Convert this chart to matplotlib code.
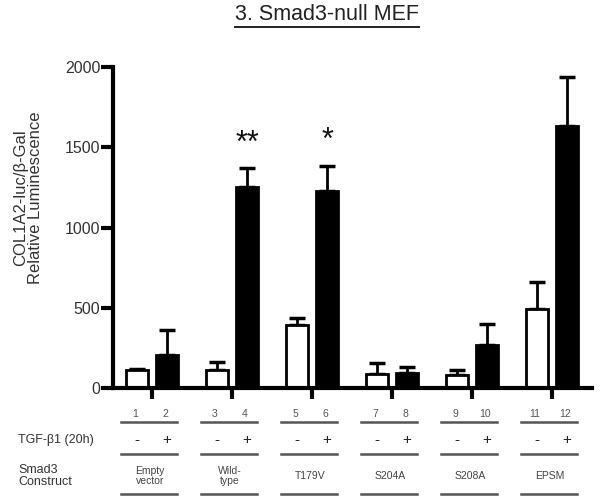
import matplotlib.pyplot as plt
import numpy as np

plt.rcParams['font.family'] = ['Liberation Sans', 'DejaVu Sans']

lanes = ['1', '2', '3', '4', '5', '6', '7', '8', '9', '10', '11', '12']
tgf = ['-', '+'] * 6
constructs = ['Empty\nvector', 'Wild-\ntype', 'T179V', 'S204A', 'S208A', 'EPSM']
means = [115, 205, 115, 1250, 390, 1225, 88, 92, 82, 266, 495, 1635]
errs = [5, 155, 45, 120, 44, 160, 67, 36, 31, 130, 164, 300]
stars = {3: '**', 5: '*'}

# bar x positions (units ~ pixels): pairs 30 apart, groups 80 apart
group_x = np.arange(len(constructs)) * 80.0
bar_x = np.repeat(group_x, 2) + np.tile([-15, 15], len(constructs))

fig = plt.figure(figsize=(6.02, 5.04), dpi=100)
ax = fig.add_axes([113 / 602, 1 - 388 / 504, 479 / 602, 321 / 504])

face = ['white' if s == '-' else 'black' for s in tgf]
ax.bar(bar_x, means, width=22, color=face, edgecolor='black', linewidth=2, zorder=2)
for x, m, e in zip(bar_x, means, errs):
    ax.errorbar(x, m, yerr=[[0], [e]], fmt='none', ecolor='black',
                elinewidth=2, capsize=6, capthick=2.5, zorder=1)
for i, s in stars.items():
    ax.text(bar_x[i], means[i] + errs[i] + 60, s, ha='center', va='bottom',
            fontsize=22, color='#111111')

ax.set_xlim(-39, 440)
ax.set_ylim(0, 2000)
ax.set_yticks([0, 500, 1000, 1500, 2000])
ax.set_xticks(group_x)
ax.set_xticklabels([])
for side in ['top', 'right']:
    ax.spines[side].set_visible(False)
for side in ['left', 'bottom']:
    ax.spines[side].set_linewidth(3)
ax.tick_params(axis='y', length=9, width=3, pad=0, labelsize=11.5, labelcolor='#333333')
ax.tick_params(axis='x', length=8, width=3, direction='out')

def fy(py):
    return 1 - py / 504

fig.text(28 / 602, fy(198), 'COL1A2-luc/\u03b2-Gal\nRelative Luminescence',
         rotation=90, ha='center', va='center', fontsize=12, color='#333333',
         linespacing=1.0)

# table below the axes
for gx in group_x:
    for py in [422, 454, 494]:
        fig.add_artist(plt.Line2D([(113 + 8 + gx) / 602, (113 + 64 + gx) / 602],
                                  [fy(py), fy(py)], color='#555555', lw=1.8))
for x, lab, t in zip(bar_x, lanes, tgf):
    fx = (152 + x) / 602
    fig.text(fx - 2 / 602, fy(414), lab, ha='center', va='center', fontsize=7.5,
             color='#555555')
    fig.text(fx, fy(440), t, ha='center', va='center', fontsize=11, color='#222222')
for gx, c in zip(group_x, constructs):
    fig.text((150 + gx) / 602, fy(476), c, ha='center', va='center', fontsize=7.5,
             color='#444444', linespacing=1.1)
fig.text(18 / 602, fy(440), 'TGF-\u03b21 (20h)', ha='left', va='center', fontsize=9,
         color='#333333')
fig.text(18 / 602, fy(476), 'Smad3\nConstruct', ha='left', va='center', fontsize=9,
         color='#333333', linespacing=1.1)

title = fig.text(327 / 602, fy(15), '3. Smad3-null MEF', ha='center', va='center',
                 fontsize=15.5, color='#222222')
fig.canvas.draw()
bb = title.get_window_extent().transformed(fig.transFigure.inverted())
fig.add_artist(plt.Line2D([bb.x0, bb.x1], [fy(27), fy(27)],
                          color='#222222', lw=1.4))

fig.savefig('out.png', dpi=100)
